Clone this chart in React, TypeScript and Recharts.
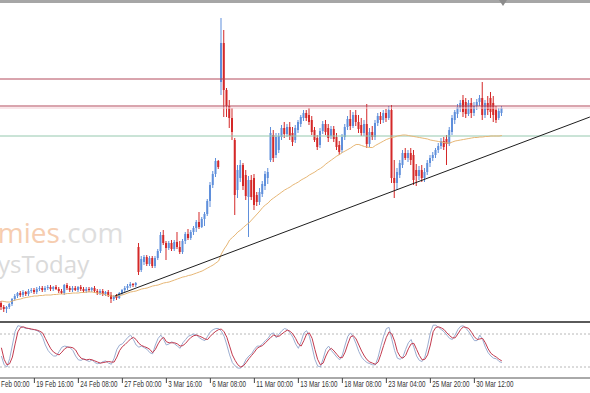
import React from 'react';
import { ComposedChart, Bar, Line, XAxis, YAxis, ReferenceLine } from 'recharts';

// H4 candles, price units (no price scale visible on the picture)
const opens = [
  17, 13, 11, 13, 16, 21, 24, 27, 25, 28, 26, 29, 30, 28, 31, 32, 30, 32, 33, 31,
  33, 31, 29, 27, 35, 32, 30, 32, 30, 33, 31, 29, 31, 30, 32, 29, 27, 29, 26, 28,
  25, 21, 24, 22, 27, 30, 32, 34, 36, 35, 73, 50, 58, 63, 56, 62, 54, 62, 69, 85,
  77, 72, 77, 71, 78, 73, 68, 79, 86, 82, 88, 92, 98, 93, 101, 106, 119, 135, 146, 159,
  238, 277, 230, 214, 202, 180, 130, 142, 155, 145, 123, 140, 142, 125, 118, 126, 134, 142, 160, 185,
  165, 170, 183, 192, 186, 193, 187, 180, 190, 196, 202, 207, 205, 200, 190, 182, 175, 189, 196, 192,
  184, 191, 183, 175, 170, 183, 193, 201, 194, 205, 198, 195, 187, 196, 176, 188, 183, 197, 204, 200,
  207, 202, 210, 142, 137, 145, 155, 167, 162, 167, 165, 150, 144, 150, 142, 148, 157, 162, 165, 170,
  174, 179, 181, 176, 188, 200, 206, 212, 220, 218, 206, 217, 207, 214, 218, 222, 205, 217, 222, 217,
  210, 202, 207,
];
const highs = [
  19, 15, 14, 17, 22, 26, 28, 29, 30, 29, 31, 32, 32, 33, 34, 34, 34, 35, 35, 34,
  35, 33, 31, 36, 37, 34, 34, 34, 34, 35, 33, 33, 33, 33, 34, 31, 31, 31, 29, 30,
  28, 25, 26, 28, 31, 34, 36, 38, 37, 38, 77, 64, 65, 65, 64, 64, 64, 71, 88, 90,
  79, 79, 80, 80, 88, 79, 81, 88, 91, 90, 94, 100, 108, 103, 108, 121, 138, 149, 162, 160,
  302, 290, 232, 220, 212, 182, 155, 160, 157, 150, 144, 145, 146, 128, 132, 139, 149, 152, 193, 190,
  187, 187, 195, 198, 196, 198, 193, 195, 200, 205, 210, 210, 212, 204, 193, 185, 192, 199, 200, 196,
  194, 194, 187, 179, 186, 196, 204, 210, 208, 210, 205, 202, 200, 216, 192, 194, 200, 207, 208, 210,
  211, 214, 215, 160, 152, 160, 170, 172, 170, 172, 170, 156, 154, 155, 152, 160, 165, 168, 172, 177,
  182, 183, 185, 193, 205, 210, 216, 220, 225, 222, 220, 222, 218, 221, 225, 238, 220, 224, 228, 224,
  214, 212, 214,
];
const lows = [
  10, 8, 7, 11, 14, 19, 22, 23, 23, 24, 24, 27, 26, 26, 29, 28, 28, 30, 29, 29,
  30, 27, 26, 25, 30, 28, 28, 29, 28, 29, 27, 27, 28, 28, 27, 25, 25, 24, 24, 23,
  17, 19, 20, 21, 25, 28, 30, 32, 33, 33, 45, 48, 55, 54, 54, 52, 52, 60, 67, 75,
  60, 70, 69, 69, 71, 66, 66, 76, 80, 80, 85, 88, 91, 92, 94, 104, 113, 132, 143, 151,
  225, 203, 203, 192, 180, 105, 122, 138, 130, 120, 83, 120, 110, 114, 115, 123, 130, 136, 158, 158,
  162, 167, 180, 182, 183, 180, 174, 177, 187, 193, 199, 199, 195, 185, 178, 170, 172, 186, 185, 178,
  181, 178, 170, 165, 167, 180, 190, 190, 192, 194, 187, 184, 184, 172, 173, 180, 180, 194, 196, 197,
  198, 200, 137, 122, 130, 142, 152, 160, 158, 155, 135, 134, 140, 138, 138, 145, 153, 159, 162, 167,
  171, 170, 155, 174, 185, 196, 202, 208, 203, 202, 204, 202, 204, 210, 214, 200, 202, 205, 202, 198,
  197, 200, 204,
];
const closes = [
  13, 11, 13, 16, 21, 24, 27, 25, 28, 26, 29, 30, 28, 31, 32, 30, 32, 33, 31, 33,
  31, 29, 27, 35, 32, 30, 32, 30, 33, 31, 29, 31, 30, 32, 29, 27, 29, 26, 28, 25,
  21, 24, 22, 27, 30, 32, 34, 36, 35, 37, 48, 61, 63, 56, 62, 54, 62, 69, 85, 77,
  72, 77, 71, 78, 73, 68, 79, 86, 82, 88, 92, 98, 93, 101, 106, 119, 135, 146, 159, 153,
  277, 230, 214, 202, 188, 125, 150, 155, 134, 124, 140, 123, 115, 118, 128, 136, 146, 148, 187, 162,
  183, 184, 192, 186, 193, 184, 178, 192, 198, 203, 207, 202, 198, 188, 180, 173, 189, 196, 188, 182,
  191, 181, 173, 168, 183, 193, 201, 194, 205, 198, 191, 187, 196, 176, 188, 183, 197, 204, 200, 207,
  202, 210, 142, 137, 148, 157, 167, 162, 167, 160, 140, 144, 150, 142, 148, 157, 162, 165, 170, 174,
  179, 173, 176, 190, 202, 208, 213, 217, 208, 206, 217, 207, 214, 218, 222, 205, 217, 210, 208, 205,
  200, 209, 212,
];
const movingAvg = [
  19, 18.5, 18, 18, 19, 20, 20.5, 21, 22, 22.5, 23, 23.5, 24, 24, 24.5, 24.5, 25, 25, 25, 25.5,
  25.5, 26, 26, 26, 26.5, 26.5, 27, 27, 27, 27.5, 27.5, 28, 28, 28, 27.5, 27, 26.5, 26, 25, 24.5,
  24, 24, 24, 24.5, 25, 26, 27, 28, 28.5, 29, 30, 31, 31.5, 32, 33, 34, 34.5, 35, 36, 37,
  37.5, 38, 39, 40, 41, 42, 43, 43.5, 44.5, 45, 46, 47, 48, 49, 50.5, 52, 53.5, 55, 57, 59,
  66, 71, 75, 80, 82.5, 85, 88, 90, 92.5, 95, 97, 100, 103, 106, 109, 112.5, 115, 117, 120, 122,
  124, 126, 128, 130, 131.5, 133, 135, 136.5, 138, 140, 141.5, 143, 145, 146.5, 148, 150, 151.5, 153.5, 156, 158,
  160, 162, 164, 165.5, 167.5, 169, 170.5, 172, 174, 175.5, 175.5, 174.5, 173.5, 173, 172.5, 172.5, 174.5, 176, 177.5, 179,
  180.5, 181.5, 182.5, 183, 184, 184.5, 185, 185, 184.5, 184, 183.5, 183, 182.5, 182, 181.5, 181, 180, 179.5, 179, 178.5,
  178, 177.5, 177, 177, 178, 179, 179.5, 180, 180.5, 181, 181.5, 182, 182.5, 182.5, 183, 183, 183.5, 183.5, 184, 184,
  184, 184, 184.5,
];
const stochK = [
  40, 24, 20, 35, 60, 85, 95, 94, 92, 90, 90, 88, 88, 86, 83, 74, 60, 50, 44, 40,
  40, 48, 56, 58, 57, 55, 50, 40, 33, 32, 35, 32, 30, 33, 28, 26, 27, 30, 31, 27,
  25, 36, 52, 60, 62, 68, 74, 78, 70, 60, 56, 58, 55, 52, 46, 44, 60, 72, 78, 70,
  60, 62, 66, 62, 58, 54, 64, 70, 76, 78, 80, 78, 73, 70, 68, 76, 84, 88, 90, 90,
  85, 76, 60, 42, 28, 22, 18, 18, 24, 34, 40, 44, 52, 58, 58, 62, 68, 72, 80, 82,
  73, 80, 86, 90, 88, 82, 74, 62, 54, 66, 82, 86, 76, 56, 34, 22, 20, 35, 52, 58,
  50, 44, 38, 33, 42, 60, 76, 82, 74, 62, 48, 38, 32, 28, 26, 24, 24, 38, 58, 76,
  90, 92, 70, 50, 36, 34, 38, 52, 64, 70, 56, 40, 32, 30, 38, 58, 82, 96, 96, 92,
  88, 84, 78, 72, 70, 78, 88, 94, 95, 90, 84, 76, 68, 68, 78, 70, 56, 46, 40, 36,
  35, 30, 28,
];
const stochD = [
  55, 34, 24, 26, 38, 62, 84, 92, 93, 91, 90, 89, 88, 87, 85, 82, 72, 62, 53, 47,
  44, 42, 47, 53, 56, 56, 55, 51, 42, 36, 34, 33, 34, 33, 31, 29, 27, 28, 29, 30,
  29, 29, 38, 50, 57, 61, 66, 71, 74, 70, 63, 59, 57, 55, 52, 46, 52, 62, 70, 74,
  66, 64, 64, 64, 62, 58, 59, 63, 69, 74, 77, 78, 76, 74, 71, 70, 76, 81, 85, 88,
  89, 84, 74, 58, 42, 32, 24, 20, 22, 28, 35, 41, 47, 54, 57, 59, 64, 69, 74, 78,
  76, 76, 80, 84, 87, 85, 80, 72, 62, 58, 68, 80, 82, 72, 52, 34, 24, 27, 40, 50,
  54, 49, 43, 37, 37, 47, 62, 75, 77, 71, 60, 49, 40, 33, 29, 27, 25, 29, 43, 59,
  74, 84, 80, 67, 48, 39, 36, 41, 53, 62, 63, 52, 41, 33, 34, 42, 60, 84, 92, 93,
  91, 88, 82, 77, 73, 73, 80, 88, 93, 92, 90, 83, 75, 70, 71, 72, 64, 53, 45, 41,
  38, 34, 31,
];

const timeLabels = [
  '17 Feb 00:00', '19 Feb 16:00', '24 Feb 08:00', '27 Feb 00:00', '3 Mar 16:00', '6 Mar 08:00',
  '11 Mar 00:00', '13 Mar 16:00', '18 Mar 08:00', '23 Mar 04:00', '25 Mar 20:00', '30 Mar 12:00',
];
const timeTickBars = [-4, 12, 28, 44, 60, 76, 92, 108, 124, 140, 156, 172];

const resistanceLevels = [241, 214];
const supportLevel = 184;
const trendStart = { x: 41.3, y: 24 };
const trendEnd = { x: 214, y: 203 };

const BULL = '#5f8fdb';
const BEAR = '#d42828';
const X_DOMAIN: [number, number] = [-0.5, 214.05];
const FONT = '"Liberation Sans", Arial, sans-serif';

const rows = opens.map((o, i) => ({
    i,
    o,
    h: highs[i],
    l: lows[i],
    c: closes[i],
    ma: movingAvg[i],
    k: stochK[i],
    d: stochD[i],
}));

const Candle = (props: any) => {
    const { x, y, width, height, payload } = props;
    if (!payload) return null;
    const { o, h, l, c } = payload;
    const top = Math.min(y, y + height);
    const span = Math.abs(height);
    const toY = (v: number) => top + ((h - v) / (h - l)) * span;
    const cx = x + width / 2;
    const color = c >= o ? BULL : BEAR;
    const bTop = toY(Math.max(o, c));
    const bBot = toY(Math.min(o, c));
    return (
        <g>
            <rect x={cx - 0.5} y={top} width={1} height={span} fill={color} />
            <rect x={cx - 1} y={bTop} width={2} height={Math.max(1, bBot - bTop)} fill={color} />
        </g>
    );
};

const TimeTick = (props: any) => {
    const { x, y, payload } = props;
    const label = timeLabels[timeTickBars.indexOf(payload.value)];
    return (
        <g>
            <line x1={x} x2={x} y1={y} y2={y + 5} stroke="#444" />
            <text
                transform={`translate(${x + 2},${y + 9}) scale(0.74,1)`}
                fontSize={8.5}
                fill="#333"
                fontFamily={FONT}
            >
                {label}
            </text>
        </g>
    );
};

export default function App() {
    return (
        <div style={{ position: 'fixed', left: 0, top: 0, width: 590, height: 393, background: '#fff', overflow: 'hidden' }}>
            <svg width={590} height={322} style={{ position: 'absolute', left: 0, top: 0 }}>
                <text x={-82} y={243} fontSize={28} fontFamily='"Open Sans", sans-serif'>
                    <tspan fill="#f6cdb0">Economies</tspan>
                    <tspan fill="#dedede">.com</tspan>
                </text>
                <text x={-2} y={273} fontSize={24} fontFamily='"Open Sans", sans-serif' fill="#dadada">ysToday</text>
            </svg>

            <div style={{ position: 'absolute', left: 0, top: 0 }}>
                <ComposedChart width={590} height={322} data={rows} margin={{ top: 0, right: 0, bottom: 0, left: 0 }}>
                    <XAxis dataKey="i" type="number" domain={X_DOMAIN} allowDataOverflow hide />
                    <YAxis type="number" domain={[-2, 320]} allowDataOverflow hide />
                    {resistanceLevels.map((v) => (
                        <ReferenceLine key={v} y={v} stroke="#b34a5c" strokeWidth={1} />
                    ))}
                    <ReferenceLine y={resistanceLevels[1] - 2} stroke="#f3cdd4" strokeWidth={1} />
                    <ReferenceLine y={supportLevel} stroke="#95c8ae" strokeWidth={1} />
                    <Bar
                        dataKey={(r: any) => [r.l, r.h]}
                        barSize={2}
                        isAnimationActive={false}
                        shape={(p: any) => <Candle {...p} />}
                    />
                    <Line dataKey="ma" type="linear" stroke="#e7b776" strokeWidth={1} dot={false} isAnimationActive={false} />
                    <ReferenceLine segment={[trendStart, trendEnd]} stroke="#1e1e1e" strokeWidth={1} />
                </ComposedChart>
            </div>

            <div style={{ position: 'absolute', left: 0, top: 0, width: 590, height: 3, background: '#a6a6a6' }} />
            <div
                style={{
                    position: 'absolute', left: 499, top: 0, width: 0, height: 0,
                    borderLeft: '4px solid transparent', borderRight: '4px solid transparent', borderTop: '6px solid #8c8c8c',
                }}
            />
            <div style={{ position: 'absolute', left: 0, top: 321, width: 590, height: 2, background: '#5a5a5a' }} />

            <div style={{ position: 'absolute', left: 0, top: 318 }}>
                <ComposedChart width={590} height={75} data={rows} margin={{ top: 5, right: 0, bottom: 0, left: 0 }}>
                    <XAxis
                        dataKey="i"
                        type="number"
                        domain={X_DOMAIN}
                        allowDataOverflow
                        ticks={timeTickBars}
                        interval={0}
                        height={15}
                        tickSize={0}
                        tickMargin={0}
                        tickLine={false}
                        axisLine={{ stroke: '#555' }}
                        tick={(p: any) => <TimeTick {...p} />}
                    />
                    <YAxis type="number" domain={[0, 100]} hide />
                    <ReferenceLine y={80} stroke="#b8b8b8" strokeDasharray="2 2" />
                    <ReferenceLine y={20} stroke="#b8b8b8" strokeDasharray="2 2" />
                    <Line dataKey="k" type="linear" stroke="#9badd0" strokeWidth={1} dot={false} isAnimationActive={false} />
                    <Line dataKey="d" type="linear" stroke="#c23a4e" strokeWidth={1} dot={false} isAnimationActive={false} />
                </ComposedChart>
            </div>
        </div>
    );
}
